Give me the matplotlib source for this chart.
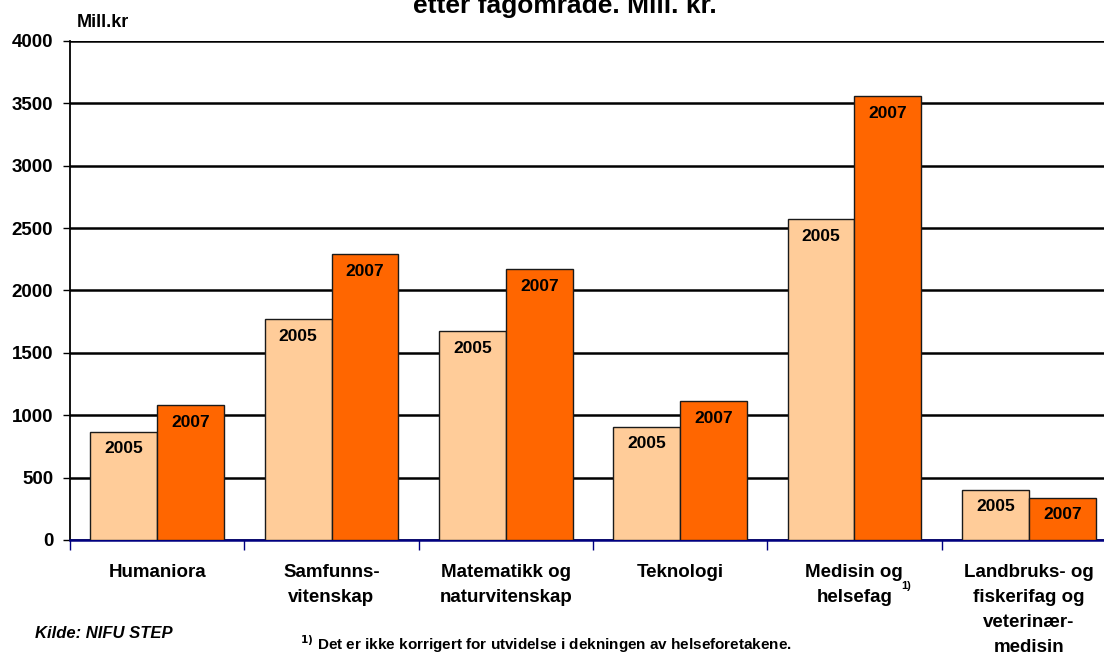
import numpy as np
import matplotlib.pyplot as plt

plt.rcParams['font.family'] = ['Liberation Sans', 'DejaVu Sans']

# Data (mill. kr)
categories = ['Humaniora', 'Samfunns-\nvitenskap', 'Matematikk og\nnaturvitenskap',
              'Teknologi', 'Medisin og\nhelsefag', 'Landbruks- og\nfiskerifag og\nveterinær-\nmedisin']
years = ['2005', '2007']
v2005 = [866, 1771, 1675, 906, 2573, 401]
v2007 = [1082, 2292, 2172, 1114, 3559, 337]
colors = ['#FFCC99', '#FF6600']

W, H = 1104, 654
fig = plt.figure(figsize=(W/100, H/100), dpi=100)
ax = fig.add_axes([70/W, 114/H, 1046/W, 499/H])

x = np.arange(len(categories))
w = 0.383
for vals, off, col, yr in [(v2005, -w/2, colors[0], years[0]), (v2007, w/2, colors[1], years[1])]:
    bars = ax.bar(x + off, vals, w, color=col, edgecolor='#1a1a1a', linewidth=1, zorder=3)
    for b, v in zip(bars, vals):
        ax.annotate(yr, (b.get_x() + b.get_width()/2, v), xytext=(0, -17),
                    textcoords='offset pixels', ha='center', va='center',
                    fontsize=12.5, fontweight='bold', zorder=4)

ax.set_xlim(-0.5, 5.5)
ax.set_ylim(0, 4000)
ax.set_yticks(np.arange(0, 4001, 500))
ax.yaxis.grid(True, color='black', linewidth=1.8, zorder=1)
ax.set_axisbelow(True)
for lab in ax.get_yticklabels():
    lab.set_fontweight('bold')
ax.tick_params(axis='y', labelsize=13.5, length=5, width=1, direction='out', pad=7)

ax.set_xticks(np.arange(-0.5, 6, 1))
ax.set_xticklabels([])
ax.tick_params(axis='x', length=7, width=1, color='#000080', direction='out')

for s in ['top', 'right']:
    ax.spines[s].set_visible(False)
ax.spines['left'].set_linewidth(1.3)
ax.spines['bottom'].set_color('#000080')
ax.spines['bottom'].set_linewidth(1.8)

for i, c in enumerate(categories):
    fig.text((70 + (i + 0.5) * 174.3) / W, 1 - 564/H, c, ha='center', va='top',
             fontsize=13.5, fontweight='bold', linespacing=1.62)

fig.text(906/W, 1 - 586/H, '1)', ha='center', va='center', fontsize=8, fontweight='bold')
fig.text(77/W, 1 - 27/H, 'Mill.kr', ha='left', va='baseline', fontsize=13, fontweight='bold')
# title: only the lower part of its last line is visible in the source image
fig.text(565/W, 1 - 13/H, 'etter fagområde. Mill. kr.', ha='center', va='baseline',
         fontsize=19, fontweight='bold')
fig.text(35/W, 1 - 638/H, 'Kilde: NIFU STEP', ha='left', va='baseline',
         fontsize=12, fontweight='bold', style='italic')
fig.text(300/W, 1 - 650/H, r'$^{\mathbf{1)}}$ Det er ikke korrigert for utvidelse i dekningen av helseforetakene.',
         ha='left', va='baseline', fontsize=11, fontweight='bold')

fig.savefig('out.png', dpi=100)
